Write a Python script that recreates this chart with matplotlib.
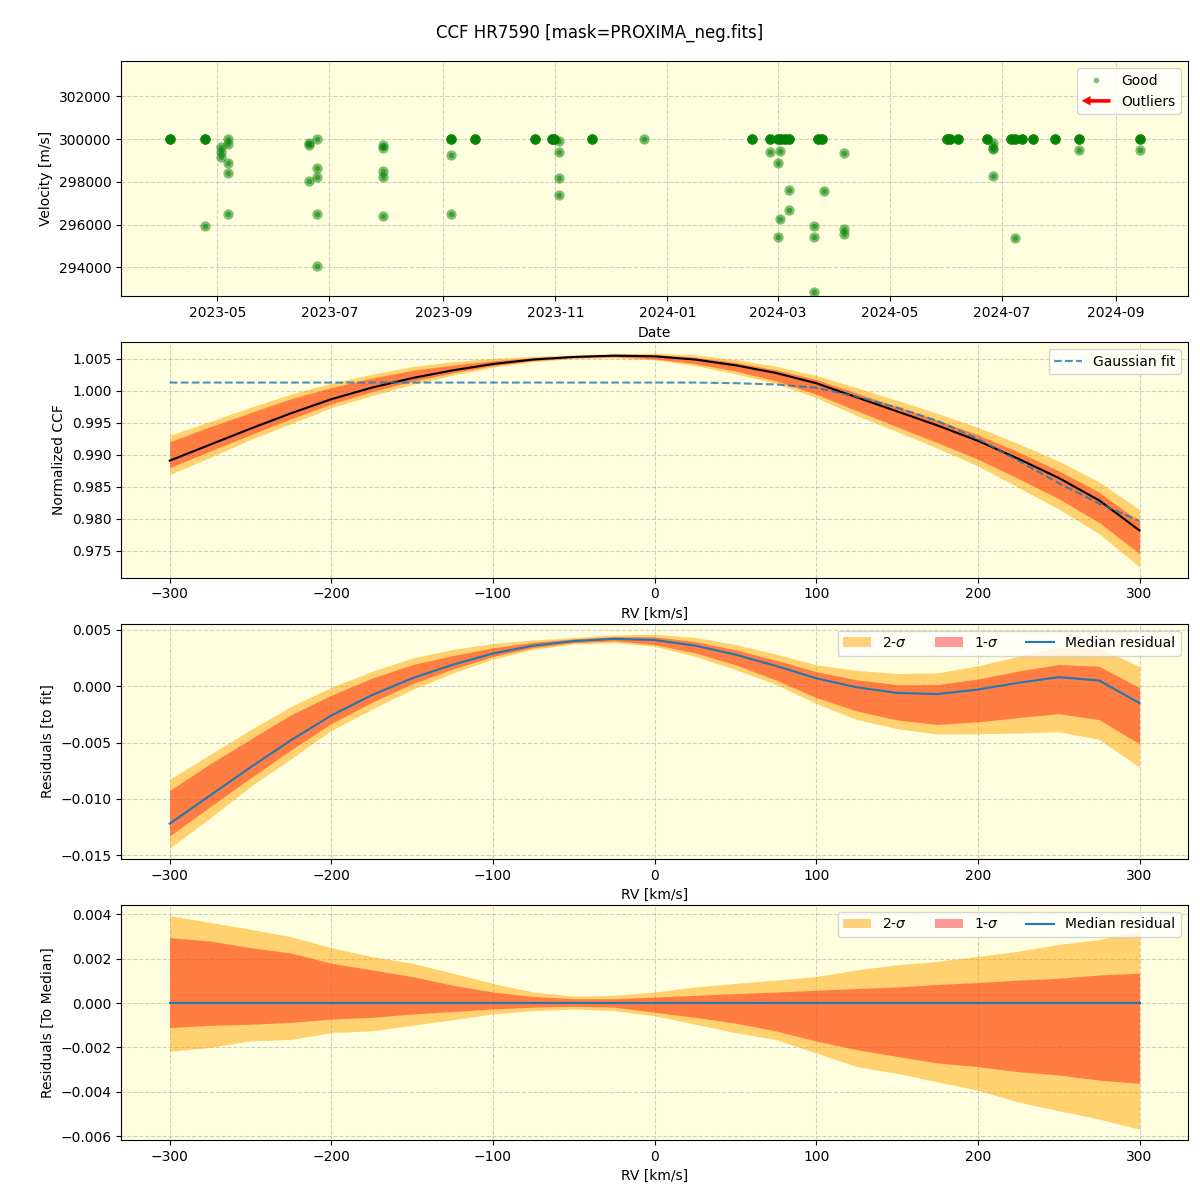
import numpy as np
import pandas as pd
import matplotlib
matplotlib.use("Agg")
import matplotlib.pyplot as plt
import matplotlib.dates as mdates
from matplotlib.patches import FancyArrow
from matplotlib.legend_handler import HandlerPatch
from matplotlib.lines import Line2D

# --- top panel: velocities per night ---
# nights where several exposures sit on top of each other at 300 km/s
stacked_dates = ["2023-04-05", "2023-04-24", "2023-09-05", "2023-09-18", "2023-10-21",
                 "2023-10-30", "2023-10-31", "2023-11-21", "2024-02-16", "2024-02-26",
                 "2024-03-01", "2024-03-03", "2024-03-05", "2024-03-07", "2024-03-23",
                 "2024-03-25", "2024-06-01", "2024-06-03", "2024-06-07", "2024-06-23",
                 "2024-07-06", "2024-07-08", "2024-07-12", "2024-07-18", "2024-07-30",
                 "2024-08-12", "2024-09-14"]
stacked_vel = 300000
stack_count = 4

single_dates = ["2023-04-24",
                "2023-05-03", "2023-05-03", "2023-05-03",
                "2023-05-07", "2023-05-07", "2023-05-07", "2023-05-07", "2023-05-07",
                "2023-06-20", "2023-06-20", "2023-06-20",
                "2023-06-24", "2023-06-24", "2023-06-24", "2023-06-24", "2023-06-24",
                "2023-07-30", "2023-07-30", "2023-07-30", "2023-07-30", "2023-07-30",
                "2023-09-05", "2023-09-05",
                "2023-11-03", "2023-11-03", "2023-11-03", "2023-11-03",
                "2023-12-19",
                "2024-02-26",
                "2024-03-01", "2024-03-01",
                "2024-03-02", "2024-03-02",
                "2024-03-07", "2024-03-07",
                "2024-03-21", "2024-03-21", "2024-03-21",
                "2024-03-26",
                "2024-04-06", "2024-04-06", "2024-04-06",
                "2024-06-26", "2024-06-26", "2024-06-26", "2024-06-26",
                "2024-07-08",
                "2024-08-12",
                "2024-09-14"]
single_vel = [295920,
              299640, 299380, 299180,
              300000, 299770, 298880, 298420, 296480,
              299840, 299730, 298060,
              300000, 298665, 298230, 296510, 294090,
              299735, 299580, 298510, 298230, 296420,
              299255, 296510,
              299920, 299395, 298185, 297395,
              300000,
              299420,
              298880, 295410,
              299470, 296280,
              297640, 296700,
              295950, 295440, 292850,
              297580,
              299350, 295815, 295580,
              299840, 299610, 299535, 298280,
              295395,
              299490,
              299490]

# --- CCF panels ---
rv = [-300, -275, -250, -225, -200, -175, -150, -125, -100, -75, -50, -25, 0,
      25, 50, 75, 100, 125, 150, 175, 200, 225, 250, 275, 300]

ccf_median = [0.9891, 0.9916, 0.9941, 0.9965, 0.9987, 1.0005, 1.0020, 1.0032, 1.0042,
              1.0049, 1.0053, 1.0055, 1.0054, 1.0049, 1.0040, 1.0028, 1.0012, 0.9990,
              0.9968, 0.9946, 0.9922, 0.9894, 0.9864, 0.9829, 0.9782]

gauss_fit = [1.0013, 1.0013, 1.0013, 1.0013, 1.0013, 1.0013, 1.0013, 1.0013, 1.0013,
             1.0013, 1.0013, 1.0013, 1.0013, 1.0013, 1.0012, 1.0010, 1.0005, 0.9991,
             0.9974, 0.9953, 0.9925, 0.9891, 0.9856, 0.9824, 0.9797]

resid_median = [-0.0122, -0.0097, -0.0072, -0.0048, -0.0026, -0.0008, 0.0007, 0.0019,
                0.0029, 0.0036, 0.0040, 0.0042, 0.0041, 0.0036, 0.0028, 0.0018, 0.0007,
                -0.0001, -0.0006, -0.0007, -0.0003, 0.0003, 0.0008, 0.0005, -0.0015]

# quantile offsets relative to the median profile
sig1_hi = [0.00295, 0.0028, 0.0025, 0.00226, 0.0018, 0.0015, 0.0012, 0.00081, 0.0005,
           0.0003, 0.0002, 0.0002, 0.00028, 0.00035, 0.00043, 0.0005, 0.00058, 0.00066,
           0.00073, 0.00084, 0.00093, 0.00104, 0.00112, 0.00127, 0.00135]
sig1_lo = [-0.0011, -0.001, -0.00095, -0.00087, -0.00072, -0.00064, -0.00049, -0.00038,
           -0.00026, -0.00018, -0.00014, -0.00018, -0.00041, -0.00064, -0.0009, -0.00125,
           -0.00171, -0.0021, -0.0024, -0.0027, -0.00286, -0.00309, -0.00324, -0.00347,
           -0.00362]
sig2_hi = [0.00395, 0.00364, 0.00333, 0.003, 0.0025, 0.0021, 0.0018, 0.00135, 0.00089,
           0.0005, 0.00032, 0.00035, 0.0005, 0.00073, 0.00089, 0.00104, 0.0012, 0.0015,
           0.00173, 0.00188, 0.00211, 0.00234, 0.00265, 0.00287, 0.00326]
sig2_lo = [-0.00217, -0.002, -0.0017, -0.00164, -0.00133, -0.00125, -0.001, -0.00075,
           -0.00049, -0.00034, -0.00026, -0.00034, -0.00057, -0.00095, -0.00133, -0.00164,
           -0.00225, -0.00286, -0.00317, -0.00355, -0.00393, -0.00446, -0.00485, -0.00523,
           -0.00569]

BG = "lightyellow"


def make_legend_arrow(legend, orig_handle, xdescent, ydescent, width, height, fontsize):
    return FancyArrow(width, 0.5 * height, -width, 0, width=0.3 * height,
                      head_width=0.85 * height, head_length=0.28 * width,
                      length_includes_head=True)


def draw_bands(ax, center, label=True):
    c = np.array(center)
    ax.fill_between(rv, c + np.array(sig2_lo), c + np.array(sig2_hi), color="orange",
                    alpha=0.5, lw=0, label="2-$\\sigma$" if label else None)
    ax.fill_between(rv, c + np.array(sig1_lo), c + np.array(sig1_hi), color="red",
                    alpha=0.4, lw=0, label="1-$\\sigma$" if label else None)


fig, axes = plt.subplots(4, 1, figsize=(12, 12), dpi=100)
plt.subplots_adjust(left=0.101, right=0.99, top=0.949, bottom=0.05, hspace=0.196)
fig.suptitle("CCF HR7590 [mask=PROXIMA_neg.fits]", fontsize=12, y=0.98)

for ax in axes:
    ax.set_facecolor(BG)
    ax.grid(True, linestyle="--", alpha=0.6)
    ax.set_axisbelow(True)

# panel 1
ax = axes[0]
d_all = pd.to_datetime(list(np.repeat(stacked_dates, stack_count)) + single_dates)
v_all = [stacked_vel] * (len(stacked_dates) * stack_count) + single_vel
ax.scatter(d_all, v_all, s=55, color="green", alpha=0.5, lw=0)
ax.scatter(d_all, v_all, s=16, color="green", alpha=0.5, lw=0, label="Good")
ax.set_ylim(292650, 303650)
ax.set_yticks([294000, 296000, 298000, 300000, 302000])
ax.xaxis.set_major_locator(mdates.MonthLocator(bymonth=[1, 3, 5, 7, 9, 11]))
ax.xaxis.set_major_formatter(mdates.DateFormatter("%Y-%m"))
ax.set_xlabel("Date")
ax.set_ylabel("Velocity [m/s]")
good_h = Line2D([], [], marker="o", ls="", color="green", alpha=0.5, markersize=4,
                markeredgewidth=0)
arrow_h = FancyArrow(0, 0, 1, 0, color="red", lw=0.5)
ax.legend([good_h, arrow_h], ["Good", "Outliers"], loc="upper right",
          handler_map={FancyArrow: HandlerPatch(patch_func=make_legend_arrow)})

# panel 2
ax = axes[1]
draw_bands(ax, ccf_median, label=False)
ax.plot(rv, ccf_median, color="black", lw=1.5)
ax.plot(rv, gauss_fit, "--", color="C0", lw=1.5, alpha=0.8, label="Gaussian fit")
ax.set_xlabel("RV [km/s]")
ax.set_ylabel("Normalized CCF")
ax.legend(loc="upper right")

# panel 3
ax = axes[2]
draw_bands(ax, resid_median)
ax.plot(rv, resid_median, color="C0", lw=1.5, label="Median residual")
ax.set_xlabel("RV [km/s]")
ax.set_ylabel("Residuals [to fit]")
ax.legend(loc="upper right", ncol=3)

# panel 4
ax = axes[3]
zero = np.array(resid_median) - np.array(resid_median)
draw_bands(ax, zero)
ax.plot(rv, zero, color="C0", lw=1.5, label="Median residual")
ax.set_xlabel("RV [km/s]")
ax.set_ylabel("Residuals [To Median]")
ax.legend(loc="upper right", ncol=3)

fig.savefig("out.png", dpi=100)
